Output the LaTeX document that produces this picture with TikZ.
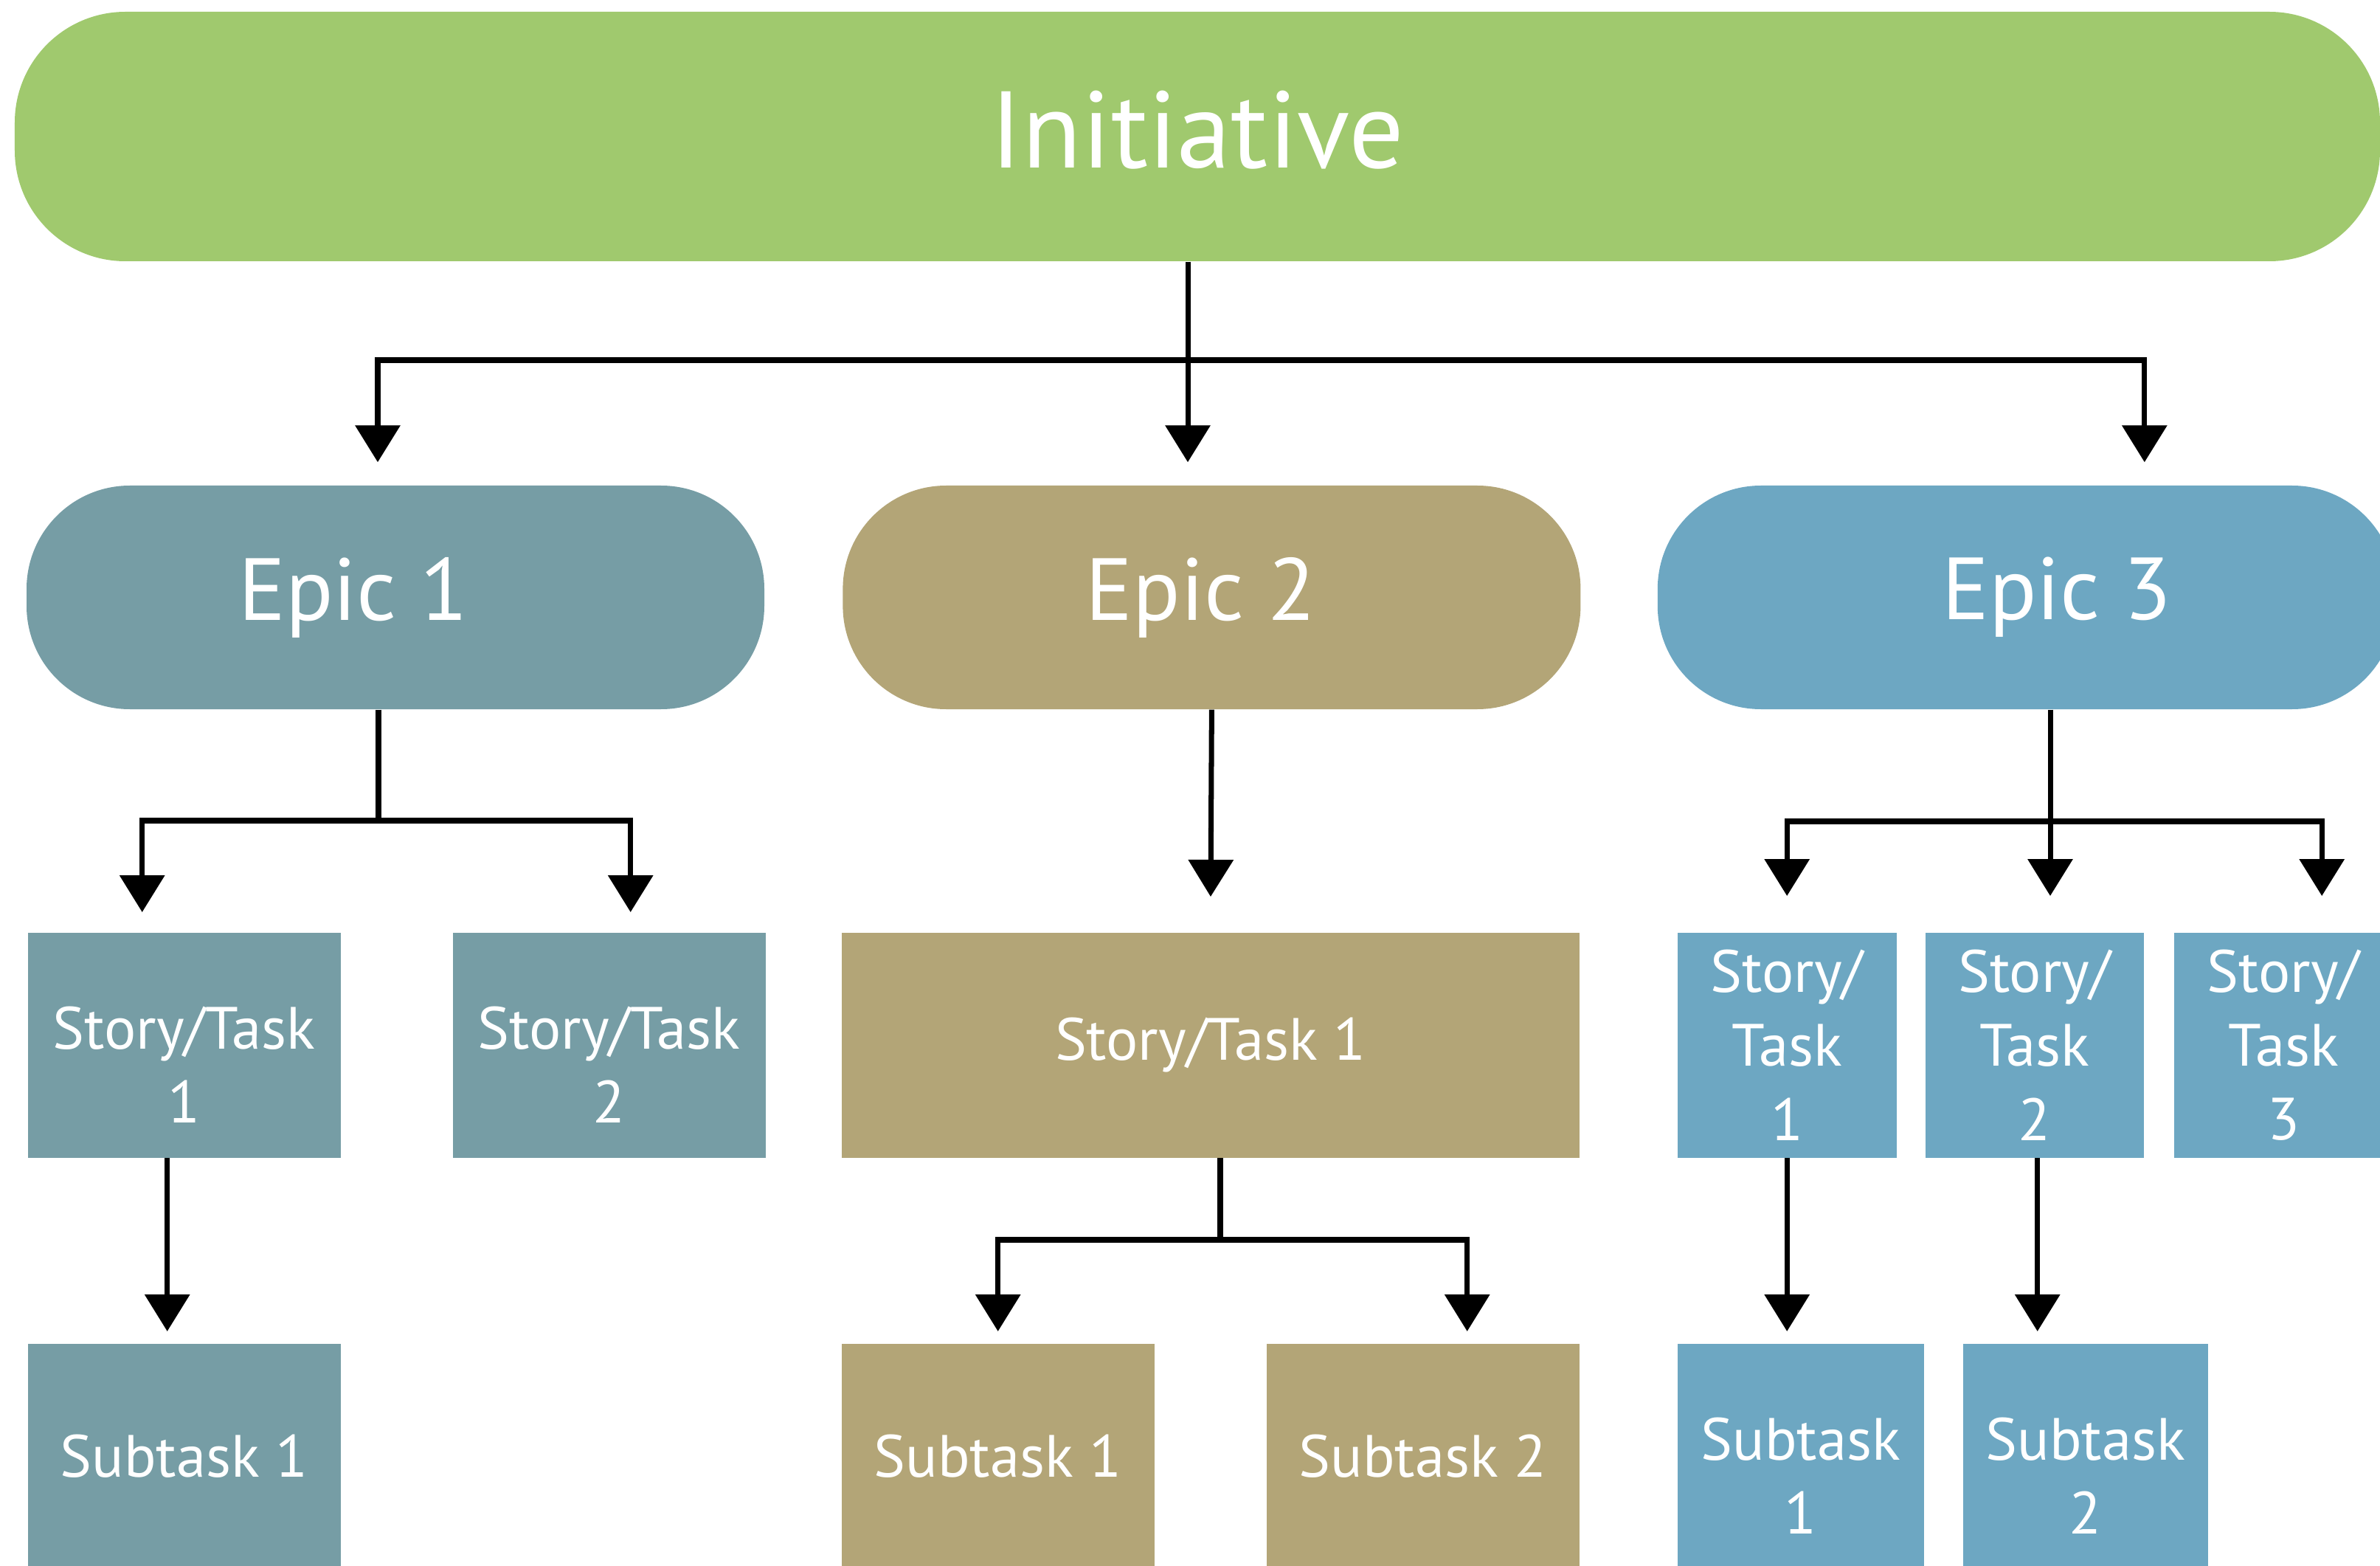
\documentclass[tikz,border=0pt]{standalone}
\usepackage{fontspec}
\setmainfont{PT Sans}
\usepackage{tikz}
\usetikzlibrary{arrows.meta,positioning}

\definecolor{initgreen}{HTML}{A0C96E}
\definecolor{epicone}{HTML}{769DA5}
\definecolor{epictwo}{HTML}{B3A577}
\definecolor{epicthree}{HTML}{6DA7C2}

\begin{document}
\begin{tikzpicture}[
  box/.style={rectangle, anchor=north west, text=white, align=center, inner sep=0pt,
    minimum height=3.05cm, font=\fontsize{23}{28.5}\selectfont},
  lowtext/.style={text height=60pt},
  epic/.style={rectangle, rounded corners=1.4cm, minimum width=10cm,
    minimum height=3.03cm, inner sep=0pt},
  etext/.style={text=white, font=\fontsize{34}{40}\selectfont},
  arr/.style={-{Triangle[width=6mm,length=5mm]}, line width=2pt},
  ln/.style={line width=2pt}
]
\useasboundingbox (0,0) rectangle (32.26,-21.22);
\clip (0,0) rectangle (32.26,-21.22);

\node[rectangle, rounded corners=1.5cm, fill=initgreen, minimum width=32.06cm,
  minimum height=3.38cm, text=white, text depth=2mm, font=\fontsize{42}{48}\selectfont]
  (init) at (16.23,-1.85) {Initiative};

\node[epic, fill=epicone, label={[etext, xshift=-5.7mm]center:Epic 1}] (e1) at (5.36,-8.095) {};
\node[epic, fill=epictwo, right=1.05cm of e1, label={[etext, xshift=-1.5mm]center:Epic 2}] (e2) {};
\node[epic, fill=epicthree, right=1.03cm of e2, label={[etext, xshift=4.1mm]center:Epic 3}] (e3) {};

% epic 1
\node[box, lowtext, fill=epicone, minimum width=4.24cm] (s1a) at (0.37,-12.63) {Story/Task\\1};
\node[box, lowtext, fill=epicone, minimum width=4.24cm] (s1b) at (6.13,-12.63) {Story/Task\\2};
\node[box, fill=epicone, minimum width=4.24cm] (u1a) at (0.37,-18.20) {Subtask 1};

% epic 2
\node[box, fill=epictwo, minimum width=10cm] (s2a) at (11.40,-12.63) {Story/Task 1};
\node[box, fill=epictwo, minimum width=4.24cm] (u2a) at (11.40,-18.20) {Subtask 1};
\node[box, fill=epictwo, minimum width=4.24cm] (u2b) at (17.16,-18.20) {Subtask 2};

% epic 3
\node[box, fill=epicthree, minimum width=2.97cm] (s3a) at (22.73,-12.63) {Story/\\Task\\1};
\node[box, fill=epicthree, minimum width=2.96cm] (s3b) at (26.09,-12.63) {Story/\\Task\\2};
\node[box, fill=epicthree, minimum width=2.97cm] (s3c) at (29.46,-12.63) {Story/\\Task\\3};
\node[box, lowtext, fill=epicthree, minimum width=3.34cm] (u3a) at (22.73,-18.20) {Subtask\\1};
\node[box, lowtext, fill=epicthree, minimum width=3.32cm] (u3b) at (26.60,-18.20) {Subtask\\2};

% initiative -> epics
\coordinate (j0) at (16.10,-4.88);
\draw[ln] (init.south -| j0) -- (j0);
\draw[arr, shorten >=0.31cm] (j0) -| ([xshift=-2.4mm]e1.north);
\draw[arr, shorten >=0.31cm] (j0) -- (e2.north -| j0);
\draw[arr, shorten >=0.31cm] (j0) -| ([xshift=16mm]e3.north);

% epic 1 -> stories -> subtask
\coordinate (j1) at (5.13,-11.12);
\draw[ln] (e1.south -| j1) -- (j1);
\draw[arr, shorten >=0.27cm] (j1) -| ([xshift=-5.7mm]s1a.north);
\draw[arr, shorten >=0.27cm] (j1) -| ([xshift=2.9mm]s1b.north);
\draw[arr, shorten >=0.16cm] ([xshift=-2.3mm]s1a.south) -- ([xshift=-2.3mm]u1a.north);

% epic 2 -> story -> subtasks
\draw[arr, shorten >=0.48cm] (e2.south) -- (s2a.north);
\coordinate (j2) at (16.54,-16.80);
\draw[ln] (s2a.south -| j2) -- (j2);
\draw[arr, shorten >=0.16cm] (j2) -| (u2a.north);
\draw[arr, shorten >=0.16cm] (j2) -| ([xshift=6mm]u2b.north);

% epic 3 -> stories -> subtasks
\coordinate (j3) at (27.79,-11.13);
\draw[ln] (e3.south -| j3) -- (j3);
\draw[arr, shorten >=0.49cm] (j3) -| (s3a.north);
\draw[arr, shorten >=0.49cm] (j3) -- (s3b.north -| j3);
\draw[arr, shorten >=0.49cm] (j3) -| ([xshift=5.2mm]s3c.north);
\draw[arr, shorten >=0.16cm] (s3a.south) -- (u3a.north -| s3a.south);
\coordinate (b3) at ([xshift=0.4mm]s3b.south);
\draw[arr, shorten >=0.16cm] (b3) -- (u3b.north -| b3);
\end{tikzpicture}
\end{document}
